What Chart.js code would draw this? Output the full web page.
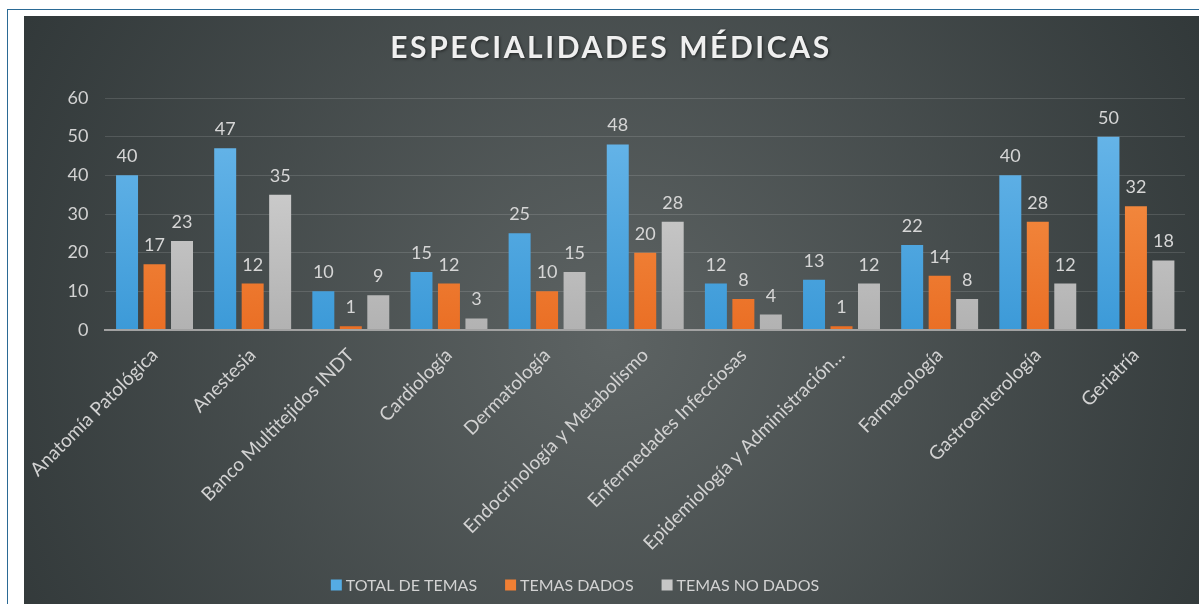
<!DOCTYPE html>
<html>
<head>
<meta charset="utf-8">
<script src="https://cdn.jsdelivr.net/npm/chart.js@4"></script>
<style>
  html, body { margin: 0; padding: 0; background: #fff; }
  body { width: 1199px; height: 604px; position: relative; overflow: hidden; }
  #frame { position: absolute; left: 7px; top: 9px; right: -10px; bottom: -10px;
           border-left: 1px solid #2b6a95; border-top: 1px solid #2b6a95; }
  #wrap { position: absolute; left: 24px; top: 16px; width: 1175px; height: 588px; }
</style>
</head>
<body>
<div id="frame"></div>
<div id="wrap"><canvas id="especialidades"></canvas></div>
<script>
// data
var categories = [
    'Anatomía Patológica',
    'Anestesia',
    'Banco Multitejidos INDT',
    'Cardiología',
    'Dermatología',
    'Endocrinología y Metabolismo',
    'Enfermedades Infecciosas',
    'Epidemiología y Administración…',
    'Farmacología',
    'Gastroenterología',
    'Geriatría'
];
var totalTemas   = [40, 47, 10, 15, 25, 48, 12, 13, 22, 40, 50];
var temasDados   = [17, 12,  1, 12, 10, 20,  8,  1, 14, 28, 32];
var temasNoDados = [23, 35,  9,  3, 15, 28,  4, 12,  8, 12, 18];
var seriesNames  = ['TOTAL DE TEMAS', 'TEMAS DADOS', 'TEMAS NO DADOS'];
var yTicks = [0, 10, 20, 30, 40, 50, 60];

var chartTitle = 'ESPECIALIDADES MÉDICAS';
var textColor = '#d2d2d2';

// vertical gradient for the bars
const barFill = (top, bottom) => (ctx) => {
    var area = ctx.chart.chartArea;
    if (!area) return bottom;
    var g = ctx.chart.ctx.createLinearGradient(0, area.top, 0, area.bottom);
    g.addColorStop(0, top);
    g.addColorStop(1, bottom);
    return g;
}

var solid = ['#55ace4', '#f07f34', '#c6c6c6'];

// dark radial background, title and legend row
const backdrop = {
    id: 'backdrop',
    beforeDraw(chart) {
        var c = chart.ctx, w = chart.width, h = chart.height;
        c.save();
        var g = c.createRadialGradient(w * 0.5, h * 0.55, 0, w * 0.5, h * 0.55, w * 0.62);
        g.addColorStop(0, '#5d6363');
        g.addColorStop(1, '#2e3536');
        c.fillStyle = g;
        c.fillRect(0, 0, w, h);
        c.restore();
    },
    afterDraw(chart) {
        var c = chart.ctx;
        c.save();
        c.font = 'bold 30px Lato';
        c.letterSpacing = '2.6px';
        c.textAlign = 'center';
        c.textBaseline = 'middle';
        c.shadowColor = 'rgba(0,0,0,0.55)';
        c.shadowBlur = 3;
        c.shadowOffsetX = 1;
        c.shadowOffsetY = 1;
        c.fillStyle = '#efefef';
        c.fillText(chartTitle, 587, 32);
        c.restore();

        // legend (Excel puts it a bit left of centre)
        c.save();
        c.font = '16px Lato';
        c.textBaseline = 'middle';
        c.textAlign = 'left';
        var box = 11, gapText = 4, gapItem = 28;
        var widths = seriesNames.map(t => c.measureText(t).width);
        var total = widths.reduce((a, v) => a + v + box + gapText, 0) + gapItem * (seriesNames.length - 1);
        var x = 551 - total / 2, y = 569;
        seriesNames.forEach((name, i) => {
            c.fillStyle = solid[i];
            c.fillRect(x, y - box / 2, box, box);
            c.fillStyle = textColor;
            c.fillText(name, x + box + gapText, y + 1);
            x += box + gapText + widths[i] + gapItem;
        });
        c.restore();
    }
}

// value labels above each bar
const valueLabels = {
    id: 'valueLabels',
    afterDatasetsDraw(chart) {
        var c = chart.ctx;
        c.save();
        c.font = '18px Lato';
        c.fillStyle = '#d6d6d6';
        c.textAlign = 'center';
        c.textBaseline = 'alphabetic';
        chart.data.datasets.forEach((ds, i) => {
            chart.getDatasetMeta(i).data.forEach((bar, j) => {
                c.fillText(ds.data[j], bar.x, bar.y - 13);
            });
        });
        c.restore();
    }
}

new Chart('especialidades', {
    type: 'bar',
    data: {
        labels: categories,
        datasets: [
            { label: seriesNames[0], data: totalTemas,   backgroundColor: barFill('#6db9eb', '#3c9ad8') },
            { label: seriesNames[1], data: temasDados,   backgroundColor: barFill('#f89a50', '#ea6f25') },
            { label: seriesNames[2], data: temasNoDados, backgroundColor: barFill('#dadada', '#b2b2b2') }
        ]
    },
    options: {
        responsive: true,
        maintainAspectRatio: false,
        animation: false,
        layout: { padding: { top: 82, right: 14, bottom: 0, left: 0 } },
        datasets: { bar: { categoryPercentage: 0.84, barPercentage: 0.8 } },
        plugins: {
            title: { display: false },
            tooltip: { enabled: false },
            legend: { display: false }
        },
        scales: {
            x: {
                grid: { display: false },
                border: { display: true, color: '#a2a2a2', width: 2 },
                ticks: {
                    color: textColor,
                    font: { family: 'Lato', size: 19 },
                    minRotation: 45,
                    maxRotation: 45,
                    autoSkip: false,
                    padding: 6
                },
                afterFit: (scale) => { scale.height = 274; }
            },
            y: {
                min: 0,
                max: 60,
                afterBuildTicks: (scale) => { scale.ticks = yTicks.map(v => ({ value: v })); },
                grid: {
                    drawTicks: false,
                    color: (ctx) => ctx.tick && ctx.tick.value === 0 ? '#a2a2a2' : 'rgba(255,255,255,0.13)',
                    lineWidth: (ctx) => ctx.tick && ctx.tick.value === 0 ? 2 : 1
                },
                border: { display: false },
                ticks: {
                    color: textColor,
                    font: { family: 'Lato', size: 18 },
                    padding: 17
                },
                afterFit: (scale) => { scale.width = 81; }
            }
        }
    },
    plugins: [backdrop, valueLabels]
});
</script>
</body>
</html>
